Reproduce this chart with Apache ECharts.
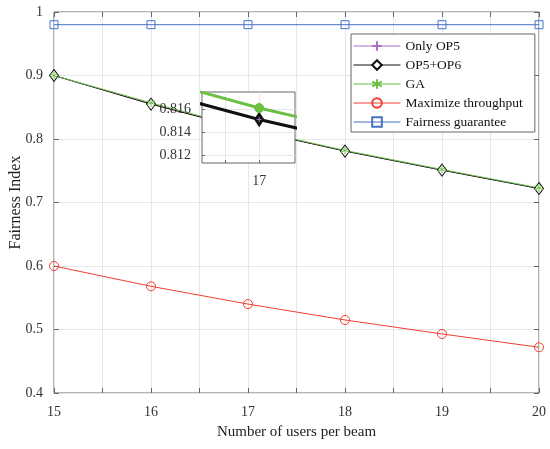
<!DOCTYPE html>
<html lang="en">
<head>
    <meta charset="UTF-8">
    <title>Fairness Index</title>
    <script src="https://cdn.jsdelivr.net/npm/echarts@6/dist/echarts.min.js"></script>
    <style>
        html, body { margin: 0; padding: 0; background: #fff; }
        #main { width: 550px; height: 449px; }
    </style>
</head>
<body>
    <div id="main"></div>
    <script>
        // data
        var users = [15, 16, 17, 18, 19, 20];
        var onlyOp5 = [0.9, 0.855, 0.8151, 0.781, 0.751, 0.722];
        var op5Op6 = [0.9, 0.855, 0.8151, 0.781, 0.751, 0.722];
        var ga = [0.9, 0.857, 0.8161, 0.782, 0.752, 0.723];
        var maxThroughput = [0.600, 0.568, 0.540, 0.515, 0.493, 0.472];
        var fairness = [0.98, 0.98, 0.98, 0.98, 0.98, 0.98];
        var yTicks = [0.4, 0.5, 0.6, 0.7, 0.8, 0.9, 1];
        var insetYTicks = [0.812, 0.814, 0.816];
        var insetXTicks = [16.98, 17];
        var insetXLabels = [17];

        var FONT = "'Liberation Serif', 'Times New Roman', serif";
        var AXIS = '#666';
        var GRIDC = '#e6e6e6';
        var PURPLE = '#b06cc4', BLACK = '#111', GREEN = '#6cbf45', RED = '#f23c30', BLUE = '#4472c4';
        var PLUS = 'path://M5 0L5 10M0 5L10 5';
        var STAR = 'path://M5 0L5 10M0.67 2.5L9.33 7.5M0.67 7.5L9.33 2.5';

        function pairs(vals) {
            return users.map(function (u, i) { return [u, vals[i]]; });
        }

        var chart = echarts.init(document.getElementById('main'));

        function mainLine(name, vals, color, symbol, size, fill) {
            return {
                name: name, type: 'line', data: pairs(vals),
                xAxisIndex: 0, yAxisIndex: 0,
                symbol: symbol, symbolSize: size, showAllSymbol: true,
                lineStyle: { color: color, width: 1 },
                itemStyle: { color: fill, borderColor: color, borderWidth: 1 },
                emphasis: { disabled: true }
            };
        }

        function insetLine(vals, color, width, symbol, size, z) {
            return {
                type: 'line', data: pairs(vals),
                xAxisIndex: 2, yAxisIndex: 2, z: z,
                symbol: symbol, symbolSize: size, showAllSymbol: true,
                lineStyle: { color: color, width: width },
                itemStyle: { color: color, borderColor: color, borderWidth: 1 },
                emphasis: { disabled: true }
            };
        }

        var option = {
            animation: false,
            textStyle: { fontFamily: FONT },
            legend: {
                orient: 'vertical',
                left: 351, top: 34,
                padding: [5, 12, 3, 2],
                itemWidth: 47, itemHeight: 12, itemGap: 5,
                backgroundColor: '#fff',
                borderColor: AXIS, borderWidth: 1,
                lineStyle: { width: 1 },
                textStyle: { fontFamily: FONT, fontSize: 13.5, color: '#111' },
                z: 20,
                data: ['Only OP5', 'OP5+OP6', 'GA', 'Maximize throughput', 'Fairness guarantee']
            },
            grid: [
                { left: 54, right: 11, top: 12, bottom: 56, outerBoundsMode: 'none',
                  show: true, borderColor: AXIS, borderWidth: 1 },
                { left: 202, top: 92, width: 93, height: 71, outerBoundsMode: 'none',
                  show: true, backgroundColor: '#fff', borderColor: AXIS, borderWidth: 1, z: 10 }
            ],
            xAxis: [
                {
                    type: 'value', gridIndex: 0, min: 15, max: 20, interval: 0.5,
                    name: 'Number of users per beam', nameLocation: 'middle', nameGap: 32,
                    nameMoveOverlap: false,
                    nameTextStyle: { fontFamily: FONT, fontSize: 15, color: '#222' },
                    axisLine: { show: false },
                    axisTick: { inside: true, length: 5, lineStyle: { color: AXIS } },
                    axisLabel: {
                        margin: 12, fontFamily: FONT, fontSize: 14, color: '#333',
                        formatter: function (v) { return Number.isInteger(v) ? String(v) : ''; }
                    },
                    splitLine: { show: true, lineStyle: { color: GRIDC } }
                },
                {
                    type: 'value', gridIndex: 0, position: 'top', min: 15, max: 20, interval: 0.5,
                    axisLine: { show: false },
                    axisTick: { inside: true, length: 5, lineStyle: { color: AXIS } },
                    axisLabel: { show: false }, splitLine: { show: false }
                },
                {
                    type: 'value', gridIndex: 1, min: 16.9665, max: 17.021, z: 11,
                    axisLine: { show: false },
                    axisTick: { inside: true, length: 3, customValues: insetXTicks, lineStyle: { color: AXIS } },
                    axisLabel: {
                        customValues: insetXLabels, margin: 11,
                        fontFamily: FONT, fontSize: 14, color: '#333',
                        formatter: function (v) { return String(Math.round(v)); }
                    },
                    splitLine: { show: true, lineStyle: { color: GRIDC } }
                }
            ],
            yAxis: [
                {
                    type: 'value', gridIndex: 0, min: 0.4, max: 1, interval: 0.1,
                    name: 'Fairness Index', nameLocation: 'middle', nameGap: 30.5,
                    nameMoveOverlap: false,
                    nameTextStyle: { fontFamily: FONT, fontSize: 16, color: '#222' },
                    axisLine: { show: false },
                    axisTick: { inside: true, length: 5, lineStyle: { color: AXIS } },
                    axisLabel: {
                        margin: 11, fontFamily: FONT, fontSize: 14, color: '#333',
                        formatter: function (v) {
                            var t = yTicks.filter(function (k) { return Math.abs(k - v) < 1e-6; })[0];
                            return t === 1 ? '1' : t.toFixed(1);
                        }
                    },
                    splitLine: { show: true, lineStyle: { color: GRIDC } }
                },
                {
                    type: 'value', gridIndex: 0, position: 'right', min: 0.4, max: 1, interval: 0.1,
                    axisLine: { show: false },
                    axisTick: { inside: true, length: 5, lineStyle: { color: AXIS } },
                    axisLabel: { show: false }, splitLine: { show: false }
                },
                {
                    type: 'value', gridIndex: 1, min: 0.8113, max: 0.8175, z: 11,
                    axisLine: { show: false },
                    axisTick: { inside: true, length: 3, customValues: insetYTicks, lineStyle: { color: AXIS } },
                    axisLabel: {
                        customValues: insetYTicks, margin: 11,
                        fontFamily: FONT, fontSize: 14, color: '#333',
                        formatter: function (v) { return v.toFixed(3); }
                    },
                    splitLine: { show: true, lineStyle: { color: GRIDC } }
                }
            ],
            series: [
                mainLine('Only OP5', onlyOp5, PURPLE, PLUS, 9, PURPLE),
                mainLine('OP5+OP6', op5Op6, BLACK, 'diamond', [9, 12], '#fff'),
                mainLine('GA', ga, GREEN, STAR, 8, GREEN),
                mainLine('Maximize throughput', maxThroughput, RED, 'circle', 9, 'rgba(255,255,255,0)'),
                mainLine('Fairness guarantee', fairness, BLUE, 'rect', 8, 'rgba(255,255,255,0)'),
                // zoomed inset
                insetLine(op5Op6, BLACK, 3, 'diamond', [9, 14], 12),
                insetLine(onlyOp5, PURPLE, 0, PLUS, 5, 13),
                insetLine(ga, GREEN, 3, 'circle', 9, 14)
            ]
        };

        chart.setOption(option);
    </script>
</body>
</html>
